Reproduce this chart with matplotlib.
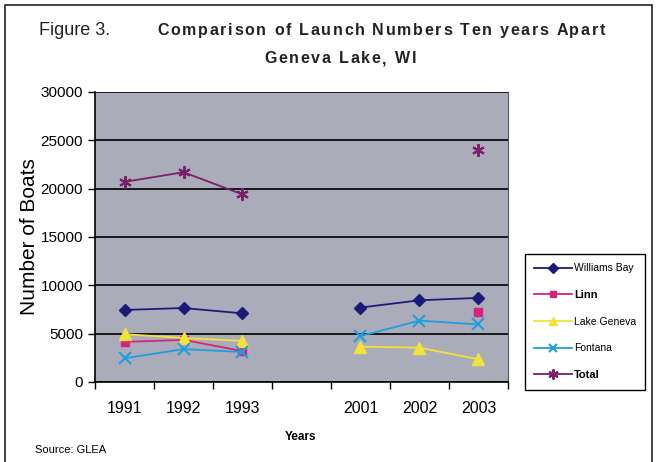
import matplotlib
matplotlib.use("Agg")
from matplotlib import pyplot as plt
from matplotlib.patches import Rectangle
from matplotlib.transforms import offset_copy
import numpy as np

plt.rcParams['font.family'] = ['Liberation Sans', 'DejaVu Sans']

# categories (blank slot separates the two decades)
years = ['1991', '1992', '1993', '', '2001', '2002', '2003']
nan = np.nan
williams_bay = [7450, 7650, 7100, nan, 7700, 8450, 8700]
linn = [4150, 4350, 3200, nan, nan, nan, 7250]
lake_geneva = [4950, 4550, 4250, nan, 3650, 3550, 2350]
fontana = [2450, 3400, 3100, nan, 4750, 6350, 5950]
total = [20700, 21700, 19400, nan, nan, nan, 24050]

series = [
    ('Williams Bay', williams_bay, '#1c1a78', 'D', 6),
    ('Linn', linn, '#d8237a', 's', 6),
    ('Lake Geneva', lake_geneva, '#f2e23c', '^', 8),
    ('Fontana', fontana, '#1e9ee0', 'x', 8),
    ('Total', total, '#7a1f68', (6, 2, 0), 9),
]


def spaced_text(fig, x, y, s, extra_px, **kw):
    """Draw text with extra letter spacing, centred on x (figure fraction)."""
    r = fig.canvas.get_renderer()
    widths = []
    for ch in s:
        t = fig.text(0, 0, ch if ch != ' ' else 'a a', **kw)
        w = t.get_window_extent(r).width
        if ch == ' ':
            w -= 2 * fig.text(0, 0, 'a', **kw).get_window_extent(r).width
            fig.texts.pop()
        widths.append(w)
        fig.texts.pop()
    total_w = sum(widths) + extra_px * (len(s) - 1)
    pos = -total_w / 2
    for ch, w in zip(s, widths):
        tr = offset_copy(fig.transFigure, fig=fig, x=pos, y=0, units='dots')
        fig.text(x, y, ch, transform=tr, ha='left', va='center', **kw)
        pos += w + extra_px


fig = plt.figure(figsize=(6.57, 4.62), dpi=100)
fig.patch.set_facecolor('white')
fig.patches.append(Rectangle((0.008, -0.01), 0.985, 1.0, transform=fig.transFigure,
                             fill=False, edgecolor='#222222', linewidth=1.2))

ax = fig.add_axes([0.1446, 0.1732, 0.6286, 0.6277])
ax.set_facecolor('#aaadb9')

x = np.arange(len(years))
for name, vals, color, marker, ms in series:
    ax.plot(x, vals, color=color, marker=marker, markersize=ms, linewidth=1.3,
            markeredgewidth=1.5 if marker in ('x', (6, 2, 0)) else 1, label=name)

ax.set_xlim(-0.5, len(years) - 0.5)
ax.set_ylim(0, 30000)
ax.set_yticks(np.arange(0, 30001, 5000))
ax.yaxis.grid(True, color='black', linewidth=1.2)
ax.set_axisbelow(True)

ax.set_xticks(x)
ax.set_xticklabels(years, fontsize=11.5)
ax.set_xticks(np.arange(-0.5, len(years), 1), minor=True)
ax.tick_params(axis='x', which='major', length=0, pad=14)
ax.tick_params(axis='x', which='minor', length=5, width=1, direction='out')
ax.tick_params(axis='y', labelsize=11, length=5, width=1)

for s in ['left', 'bottom']:
    ax.spines[s].set_color('black')
    ax.spines[s].set_linewidth(1.2)
ax.spines['top'].set_visible(False)
ax.spines['right'].set_color('#555555')
ax.spines['right'].set_linewidth(0.8)

ax.set_ylabel('Number of Boats', fontsize=15, labelpad=1)

fig.text(0.06, 0.935, 'Figure 3.', fontsize=13, ha='left', va='center', color='#222222')
spaced_text(fig, 0.58, 0.935, 'Comparison of Launch Numbers Ten years Apart', 1.7,
            fontsize=11.5, fontweight='bold', color='#222222')
spaced_text(fig, 0.518, 0.873, 'Geneva Lake, WI', 1.7,
            fontsize=11.5, fontweight='bold', color='#222222')
fig.text(0.457, 0.055, 'Years', fontsize=8.5, fontweight='bold', ha='center', va='center')
fig.text(0.053, 0.025, 'Source: GLEA', fontsize=8, ha='left', va='center')

leg = fig.legend(loc='upper left', bbox_to_anchor=(0.799, 0.45), fontsize=7.5,
                 frameon=True, fancybox=False, edgecolor='black', facecolor='white',
                 framealpha=1, labelspacing=1.6, handlelength=3.6, handletextpad=0.2,
                 borderpad=0.9, borderaxespad=0, markerscale=0.8)
leg.get_frame().set_linewidth(1)
for t in leg.get_texts():
    if t.get_text() in ('Linn', 'Total'):
        t.set_fontweight('bold')
        t.set_fontsize(8)

fig.savefig('out.png', dpi=100)
